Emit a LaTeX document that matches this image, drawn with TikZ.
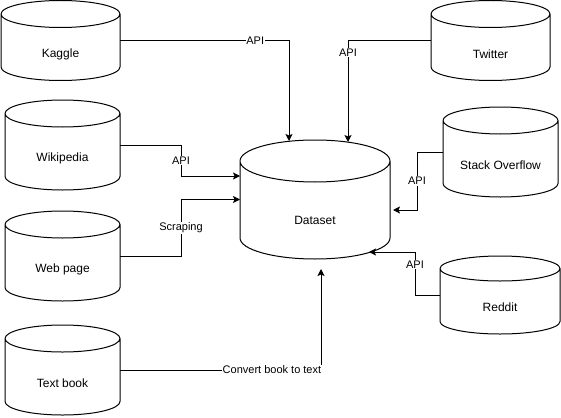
\documentclass[tikz,border=0pt]{standalone}
\usepackage{fontspec}
\setmainfont{Liberation Sans}
\usetikzlibrary{arrows.meta}
\tikzset{
  cylline/.style={draw=black, line width=1pt},
  cyltext/.style={font=\fontsize{12}{14}\selectfont, inner sep=0pt},
  bboxnode/.style={inner sep=0pt, outer sep=0pt, draw=none},
  conn/.style={draw=black, line width=1pt, -{Stealth[length=7pt,width=7pt,inset=1.5pt]}},
  elabel/.style={font=\fontsize{11}{13}\selectfont, fill=white, inner sep=0.8pt},
}
% name, x, ytop, w, h, ry, text
\newcommand\dbcyl[7]{%
  \draw[cylline] (#2,#3+#6) arc[start angle=180,end angle=-180,x radius=#4/2,y radius=#6]
    -- (#2,#3+#5-#6) arc[start angle=180,end angle=0,x radius=#4/2,y radius=#6]
    -- (#2+#4,#3+#6);
  \node[bboxnode, minimum width=#4pt, minimum height=#5pt] (#1) at (#2+#4/2,#3+#5/2) {};
  \node[cyltext] (#1-t) at (#2+#4/2,#3+#6+#5/2) {#7};
}
\begin{document}
\begin{tikzpicture}[x=1pt,y=-1pt]
\useasboundingbox (0,0) rectangle (561,417);
\dbcyl{kag}{1}{0.5}{119}{80}{13.5}{Kaggle}
\dbcyl{wiki}{5}{100}{115}{90}{13.5}{Wikipedia}
\dbcyl{web}{5}{211}{115}{90}{13.5}{Web page}
\dbcyl{tb}{5}{325}{115}{90}{13.5}{Text book}
\dbcyl{ds}{240}{140}{150}{119}{21}{Dataset}
\dbcyl{tw}{431}{0.5}{119}{80}{13.5}{Twitter}
\dbcyl{so}{443}{107}{115}{90}{13.5}{Stack Overflow}
\dbcyl{rd}{440}{256}{120}{78}{12.5}{Reddit}

\draw[conn] (kag.east) -| node[elabel,pos=0.4]{API} ([xshift=-26pt,yshift=-1pt]ds.north);
\draw[conn] (tw.west) -| node[elabel,pos=0.56]{API} ([xshift=33pt,yshift=-2pt]ds.north);
\draw[conn] (wiki.east) -- ++(61,0) |- node[elabel,pos=0.25]{API} ([yshift=23.5pt]ds.west);
\draw[conn] (web.east) -- ++(61,0) |- node[elabel,pos=0.25]{Scraping} (ds.west);
\draw[conn] (tb.east) -| node[elabel,pos=0.378]{Convert book to text} ([xshift=6pt,yshift=-10pt]ds.south);
\draw[conn] (so.west) -- ++(-26,0) |- node[elabel,pos=0.25]{API} ([xshift=3pt,yshift=-10.5pt]ds.east);
\draw[conn] (rd.west) -- ++(-25,0) |- node[elabel,pos=0.35]{API} ([xshift=54pt,yshift=7pt]ds.south);
\end{tikzpicture}
\end{document}
